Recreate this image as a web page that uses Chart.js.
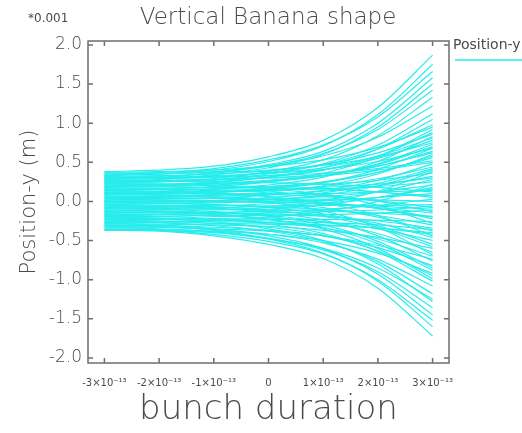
<!DOCTYPE html>
<html lang="en">
<head>
<meta charset="UTF-8">
<title>Vertical Banana shape</title>
<style>
  body {
    margin: 0;
    background: #ffffff;
  }
  #chart-box {
    position: relative;
    width: 522px;
    height: 433px;
  }
</style>
<script src="https://cdn.jsdelivr.net/npm/chart.js@4.4.1/dist/chart.umd.min.js"></script>
</head>
<body>
<div id="chart-box">
  <canvas id="bananaChart"></canvas>
</div>

<script>
// sample times along the bunch (s)
const timePoints = [-3e-13, -2e-13, -1e-13, 0, 1e-13, 2e-13, 3e-13];
const timeTickLabels = ['-3×10⁻¹³', '-2×10⁻¹³', '-1×10⁻¹³', '0', '1×10⁻¹³', '2×10⁻¹³', '3×10⁻¹³'];
const posTicks = [-2.0, -1.5, -1.0, -0.5, 0.0, 0.5, 1.0, 1.5, 2.0];

// vertical position of each slice (units of 0.001 m), one row per particle track
const upperTraces = [
  [0.38, 0.40, 0.45, 0.57, 0.78, 1.20, 1.87],
  [0.33, 0.35, 0.40, 0.51, 0.71, 1.11, 1.75],
  [0.36, 0.37, 0.42, 0.53, 0.72, 1.08, 1.66],
  [0.30, 0.32, 0.36, 0.47, 0.64, 1.00, 1.58],
  [0.27, 0.28, 0.34, 0.43, 0.60, 0.95, 1.50],
  [0.31, 0.31, 0.37, 0.45, 0.61, 0.92, 1.42],
  [0.24, 0.26, 0.29, 0.38, 0.53, 0.84, 1.33],
  [0.34, 0.35, 0.38, 0.46, 0.58, 0.82, 1.22],
  [0.24, 0.25, 0.28, 0.35, 0.48, 0.72, 1.12],
  [0.20, 0.21, 0.24, 0.31, 0.43, 0.67, 1.05],
  [0.28, 0.29, 0.31, 0.37, 0.47, 0.67, 0.98],
  [0.37, 0.38, 0.40, 0.45, 0.53, 0.69, 0.95],
  [0.15, 0.16, 0.19, 0.25, 0.36, 0.57, 0.92],
  [0.22, 0.22, 0.25, 0.31, 0.40, 0.58, 0.88],
  [0.32, 0.33, 0.35, 0.39, 0.47, 0.62, 0.86],
  [0.12, 0.13, 0.16, 0.21, 0.31, 0.51, 0.83],
  [0.29, 0.30, 0.32, 0.36, 0.43, 0.58, 0.81],
  [0.26, 0.27, 0.28, 0.33, 0.40, 0.55, 0.78],
  [0.35, 0.36, 0.37, 0.40, 0.46, 0.57, 0.75],
  [0.18, 0.19, 0.21, 0.25, 0.33, 0.48, 0.73],
  [0.19, 0.20, 0.22, 0.26, 0.33, 0.47, 0.70],
  [0.08, 0.09, 0.11, 0.16, 0.24, 0.41, 0.68],
  [0.31, 0.31, 0.33, 0.36, 0.41, 0.51, 0.68],
  [0.21, 0.22, 0.23, 0.27, 0.33, 0.45, 0.64],
  [0.25, 0.25, 0.27, 0.30, 0.35, 0.45, 0.62],
  [0.05, 0.06, 0.08, 0.12, 0.20, 0.35, 0.60],
  [0.11, 0.11, 0.13, 0.17, 0.24, 0.37, 0.58],
  [0.14, 0.15, 0.16, 0.19, 0.25, 0.37, 0.56],
  [0.30, 0.30, 0.31, 0.33, 0.36, 0.42, 0.52],
  [0.27, 0.27, 0.28, 0.30, 0.33, 0.40, 0.50],
  [0.02, 0.03, 0.04, 0.08, 0.14, 0.27, 0.48],
  [0.10, 0.11, 0.12, 0.14, 0.19, 0.29, 0.44],
  [-0.01, -0.01, 0.01, 0.05, 0.11, 0.23, 0.42],
  [-0.04, -0.03, -0.02, 0.02, 0.08, 0.20, 0.40]
];

const middleTraces = [
  [-0.18, -0.17, -0.15, -0.11, -0.03, 0.13, 0.38],
  [0.17, 0.17, 0.18, 0.19, 0.22, 0.27, 0.36],
  [0.06, 0.07, 0.07, 0.09, 0.13, 0.20, 0.32],
  [0.13, 0.13, 0.14, 0.15, 0.18, 0.22, 0.30],
  [-0.08, -0.07, -0.06, -0.03, 0.02, 0.12, 0.28],
  [0.12, 0.12, 0.13, 0.14, 0.16, 0.19, 0.25],
  [-0.26, -0.26, -0.24, -0.20, -0.13, 0.00, 0.22],
  [0.00, 0.01, 0.01, 0.03, 0.06, 0.12, 0.21],
  [-0.12, -0.11, -0.11, -0.08, -0.04, 0.05, 0.18],
  [-0.09, -0.09, -0.08, -0.06, -0.02, 0.05, 0.16],
  [0.09, 0.10, 0.09, 0.10, 0.10, 0.12, 0.14],
  [0.26, 0.26, 0.25, 0.24, 0.22, 0.18, 0.12],
  [-0.02, -0.02, -0.01, 0.00, 0.01, 0.05, 0.10],
  [0.19, 0.19, 0.18, 0.17, 0.16, 0.12, 0.07],
  [0.21, 0.21, 0.20, 0.19, 0.17, 0.12, 0.05],
  [-0.15, -0.14, -0.14, -0.13, -0.10, -0.05, 0.03],
  [0.04, 0.04, 0.04, 0.03, 0.03, 0.02, 0.00],
  [-0.06, -0.06, -0.05, -0.06, -0.05, -0.05, -0.04],
  [-0.16, -0.16, -0.16, -0.15, -0.13, -0.11, -0.06],
  [0.11, 0.11, 0.10, 0.09, 0.06, 0.01, -0.08],
  [0.00, 0.00, 0.00, -0.01, -0.03, -0.06, -0.10],
  [-0.19, -0.19, -0.18, -0.18, -0.17, -0.15, -0.11],
  [0.16, 0.16, 0.15, 0.12, 0.08, 0.00, -0.13],
  [0.01, 0.00, 0.00, -0.01, -0.03, -0.08, -0.15],
  [-0.10, -0.10, -0.10, -0.11, -0.12, -0.15, -0.19],
  [0.05, 0.05, 0.04, 0.02, -0.02, -0.09, -0.20],
  [0.07, 0.06, 0.06, 0.03, -0.01, -0.09, -0.22],
  [-0.22, -0.22, -0.22, -0.23, -0.23, -0.24, -0.26],
  [0.23, 0.22, 0.20, 0.16, 0.09, -0.05, -0.28],
  [-0.03, -0.03, -0.04, -0.07, -0.10, -0.18, -0.30],
  [-0.14, -0.14, -0.15, -0.17, -0.19, -0.25, -0.34],
  [-0.23, -0.23, -0.24, -0.25, -0.27, -0.30, -0.36],
  [0.03, 0.02, 0.01, -0.02, -0.08, -0.20, -0.38],
  [-0.27, -0.27, -0.28, -0.29, -0.31, -0.34, -0.40]
];

const lowerTraces = [
  [-0.25, -0.25, -0.26, -0.27, -0.30, -0.34, -0.42],
  [0.14, 0.13, 0.11, 0.06, -0.02, -0.18, -0.44],
  [-0.07, -0.08, -0.09, -0.12, -0.18, -0.28, -0.46],
  [-0.17, -0.17, -0.19, -0.21, -0.26, -0.35, -0.50],
  [-0.01, -0.02, -0.04, -0.08, -0.16, -0.31, -0.55],
  [-0.04, -0.05, -0.07, -0.11, -0.19, -0.34, -0.58],
  [-0.28, -0.29, -0.30, -0.32, -0.37, -0.46, -0.60],
  [-0.11, -0.12, -0.14, -0.18, -0.26, -0.41, -0.65],
  [0.09, 0.08, 0.05, -0.01, -0.12, -0.33, -0.68],
  [-0.20, -0.21, -0.23, -0.27, -0.34, -0.48, -0.70],
  [-0.33, -0.33, -0.35, -0.38, -0.44, -0.56, -0.74],
  [-0.05, -0.06, -0.09, -0.14, -0.24, -0.44, -0.76],
  [-0.30, -0.31, -0.33, -0.37, -0.44, -0.59, -0.82],
  [-0.09, -0.10, -0.13, -0.19, -0.30, -0.51, -0.85],
  [-0.13, -0.14, -0.17, -0.23, -0.33, -0.54, -0.88],
  [-0.35, -0.36, -0.38, -0.42, -0.50, -0.66, -0.92],
  [-0.24, -0.25, -0.28, -0.33, -0.43, -0.63, -0.95],
  [-0.12, -0.13, -0.16, -0.23, -0.35, -0.60, -0.99],
  [-0.18, -0.19, -0.22, -0.29, -0.41, -0.64, -1.02],
  [-0.32, -0.33, -0.36, -0.42, -0.53, -0.74, -1.08],
  [-0.26, -0.27, -0.31, -0.38, -0.51, -0.77, -1.18],
  [-0.36, -0.37, -0.40, -0.48, -0.60, -0.85, -1.25],
  [-0.21, -0.22, -0.26, -0.35, -0.50, -0.80, -1.28],
  [-0.34, -0.35, -0.39, -0.47, -0.62, -0.90, -1.36],
  [-0.29, -0.30, -0.35, -0.44, -0.60, -0.93, -1.45],
  [-0.36, -0.37, -0.42, -0.51, -0.67, -1.00, -1.52],
  [-0.31, -0.32, -0.37, -0.48, -0.66, -1.02, -1.60],
  [-0.37, -0.38, -0.44, -0.55, -0.73, -1.11, -1.72]
];

const lineColor = 'rgb(40, 236, 236)';
const frameColor = '#6e6e6e';
const textColor = '#4a4a4a';
const fontFamily = "'DejaVu Sans', sans-serif";

const allTraces = upperTraces.concat(middleTraces, lowerTraces);
const datasets = allTraces.map(trace => ({
  label: 'Position-y',
  data: trace.map((y, i) => ({ x: timePoints[i], y: y })),
  borderColor: lineColor,
  borderWidth: 1.2,
  pointRadius: 0,
  fill: false,
  cubicInterpolationMode: 'monotone'
}));

// box with inward ticks on all four sides, plus title, multiplier and legend
const framePlugin = {
  id: 'frame',
  afterDraw(chart) {
    const ctx = chart.ctx;
    const area = chart.chartArea;
    const xs = chart.scales.x;
    const ys = chart.scales.y;
    const tick = 5;
    ctx.save();
    ctx.strokeStyle = frameColor;
    ctx.lineWidth = 1.5;
    ctx.strokeRect(area.left, area.top, area.right - area.left, area.bottom - area.top);
    ctx.beginPath();
    timePoints.forEach(t => {
      const px = xs.getPixelForValue(t);
      ctx.moveTo(px, area.bottom); ctx.lineTo(px, area.bottom - tick);
      ctx.moveTo(px, area.top); ctx.lineTo(px, area.top + tick);
    });
    posTicks.forEach(v => {
      const py = ys.getPixelForValue(v);
      ctx.moveTo(area.left, py); ctx.lineTo(area.left + tick, py);
      ctx.moveTo(area.right, py); ctx.lineTo(area.right - tick, py);
    });
    ctx.stroke();

    ctx.fillStyle = textColor;
    ctx.textBaseline = 'middle';
    ctx.textAlign = 'center';
    ctx.font = "200 23px " + fontFamily;
    ctx.fillText('Vertical Banana shape', 268, 18);

    ctx.textAlign = 'left';
    ctx.font = "12px " + fontFamily;
    ctx.fillText('*0.001', 28, 19);

    ctx.font = "14px " + fontFamily;
    ctx.fillText('Position-y', 453, 45);
    ctx.strokeStyle = lineColor;
    ctx.lineWidth = 1.5;
    ctx.beginPath();
    ctx.moveTo(455, 60);
    ctx.lineTo(522, 60);
    ctx.stroke();
    ctx.restore();
  }
};

const ctx = document.getElementById('bananaChart').getContext('2d');
new Chart(ctx, {
  type: 'line',
  data: { datasets: datasets },
  options: {
    responsive: true,
    maintainAspectRatio: false,
    animation: false,
    layout: { padding: { top: 41, right: 73, left: 0, bottom: 0 } },
    plugins: {
      legend: { display: false },
      title: { display: false },
      tooltip: { enabled: false }
    },
    scales: {
      x: {
        type: 'linear',
        min: -3.3e-13,
        max: 3.3e-13,
        afterBuildTicks: scale => { scale.ticks = timePoints.map(v => ({ value: v })); },
        afterFit: scale => { scale.height = 70; },
        grid: { display: false, drawTicks: false },
        border: { display: false },
        ticks: {
          autoSkip: false,
          maxRotation: 0,
          padding: 14,
          color: textColor,
          font: { family: fontFamily, size: 10 },
          callback: (value, i) => timeTickLabels[i]
        },
        title: {
          display: true,
          text: 'bunch duration',
          color: textColor,
          font: { family: fontFamily, size: 34, weight: 200 },
          padding: { top: 0, bottom: 2 }
        }
      },
      y: {
        min: -2.065,
        max: 2.05,
        afterBuildTicks: scale => { scale.ticks = posTicks.map(v => ({ value: v })); },
        afterFit: scale => { scale.width = 88; },
        grid: { display: false, drawTicks: false },
        border: { display: false },
        ticks: {
          padding: 6,
          color: textColor,
          font: { family: fontFamily, size: 17, weight: 200 },
          callback: value => value.toFixed(1)
        },
        title: {
          display: true,
          text: 'Position-y (m)',
          color: textColor,
          font: { family: fontFamily, size: 21, weight: 200 },
          padding: { top: 17, bottom: 0 }
        }
      }
    }
  },
  plugins: [framePlugin]
});
</script>
</body>
</html>
